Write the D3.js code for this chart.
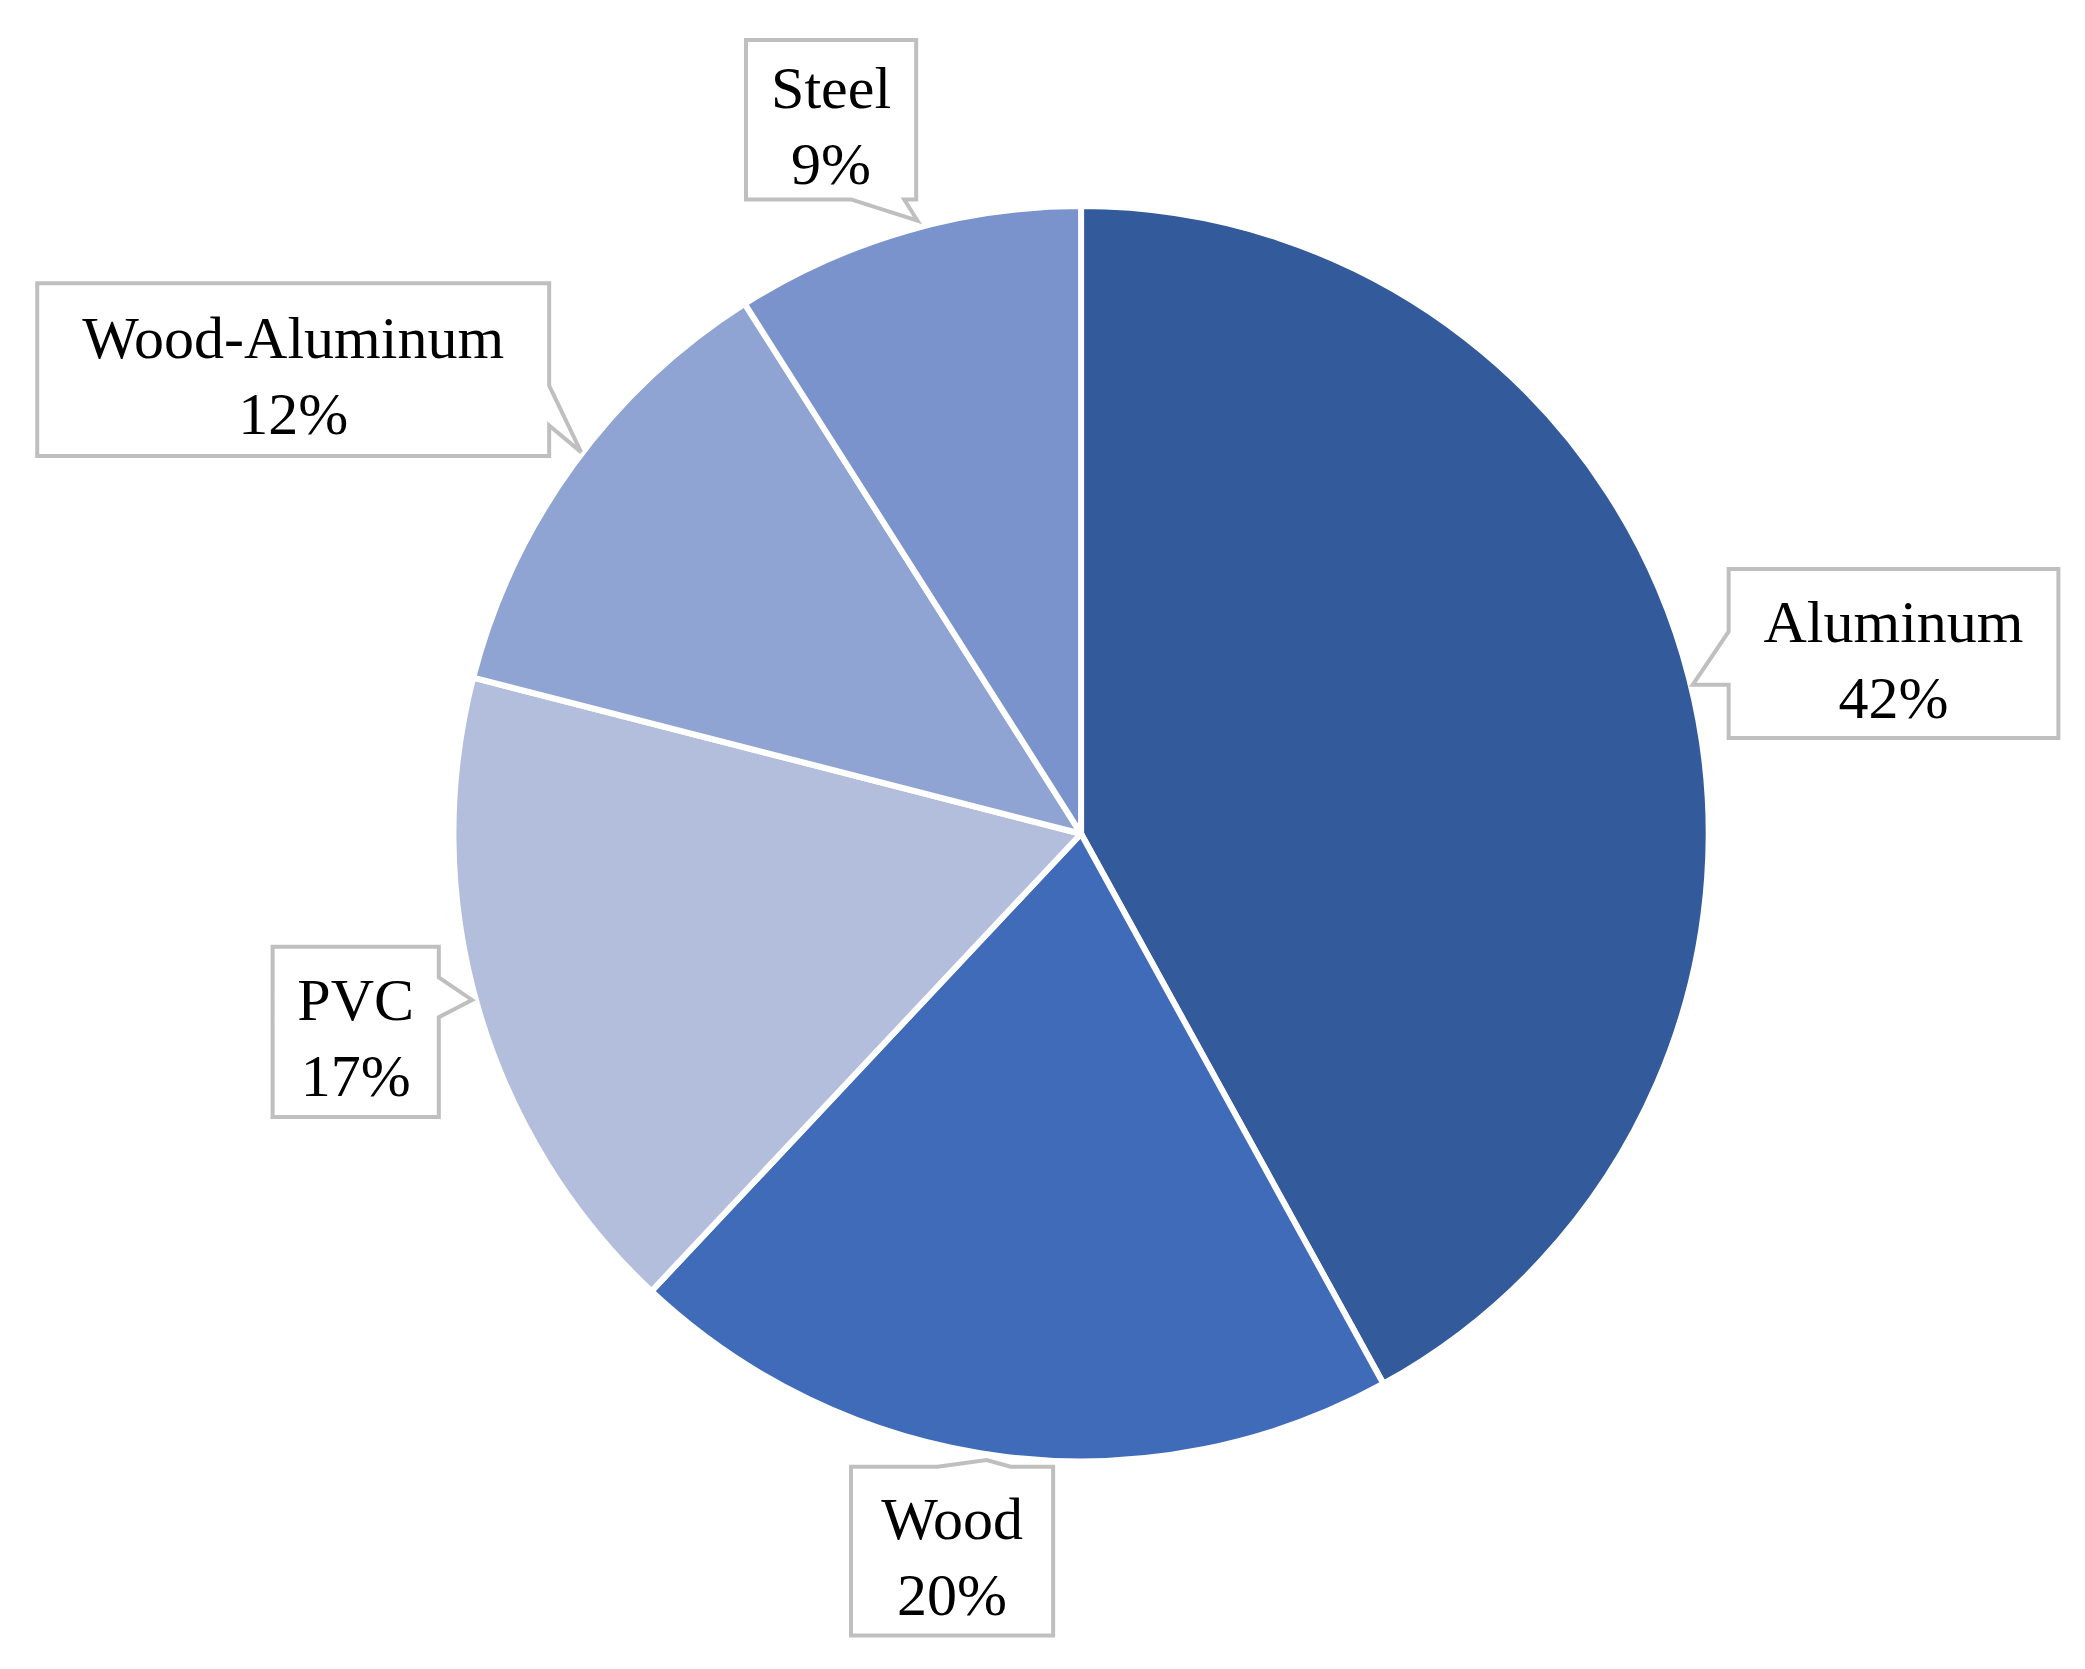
<!DOCTYPE html>
<html><head><meta charset="utf-8">
<script src="https://cdn.jsdelivr.net/npm/d3@7"></script>
<style>body{margin:0;background:#fff}</style></head>
<body><div id="chart"></div>
<script>
const categories = ["Aluminum", "Wood", "PVC", "Wood-Aluminum", "Steel"];
const values = [42, 20, 17, 12, 9];
const colors = ["#335A9A", "#406BB8", "#B3BEDD", "#90A4D4", "#7A93CD"];

const W = 2085, H = 1669, s = W / 1568;
const svg = d3.select("#chart").append("svg").attr("width", W).attr("height", H);
const cx = 813 * s, cy = 627 * s, r = 472 * s;

const pie = d3.pie().sort(null).value(d => d)(values);
const arc = d3.arc().innerRadius(0).outerRadius(r);
svg.append("g").attr("transform", `translate(${cx},${cy})`)
  .selectAll("path").data(pie).enter().append("path")
  .attr("d", arc).attr("fill", (d, i) => colors[i])
  .attr("stroke", "#fff").attr("stroke-width", 6).attr("stroke-linejoin", "round");

// callout boxes: [x0,y0,x1,y1], side of pointer, base a..b, tip
const boxes = [
  { b: [1300, 428, 1548, 555], side: "left", a: 475, e: 515, tip: [1273, 515] },
  { b: [640, 1103, 792, 1230], side: "top", a: 705, e: 760, tip: [742, 1098] },
  { b: [205, 712, 330, 840], side: "right", a: 735, e: 765, tip: [355, 752] },
  { b: [28, 213, 413, 343], side: "right", a: 290, e: 320, tip: [437, 340] },
  { b: [561, 30, 689, 150], side: "bottom", a: 640, e: 680, tip: [690, 166] }
];

function calloutPath(o) {
  const [x0, y0, x1, y1] = o.b.map(v => v * s), a = o.a * s, e = o.e * s;
  const t = o.tip.map(v => v * s);
  const p = [[x0, y0]];
  if (o.side === "top") p.push([a, y0], t, [e, y0]);
  p.push([x1, y0]);
  if (o.side === "right") p.push([x1, a], t, [x1, e]);
  p.push([x1, y1]);
  if (o.side === "bottom") p.push([e, y1], t, [a, y1]);
  p.push([x0, y1]);
  if (o.side === "left") p.push([x0, e], t, [x0, a]);
  return "M" + p.map(q => q.join(",")).join("L") + "Z";
}

categories.forEach((c, i) => {
  const o = boxes[i];
  svg.append("path").attr("d", calloutPath(o)).attr("fill", "#fff")
    .attr("stroke", "#BFBFBF").attr("stroke-width", 4);
  const mx = (o.b[0] + o.b[2]) / 2 * s, my = (o.b[1] + o.b[3]) / 2 * s;
  const t = svg.append("text").attr("text-anchor", "middle")
    .attr("font-family", "Liberation Serif, Times New Roman, serif")
    .attr("font-size", 60).attr("fill", "#000");
  t.append("tspan").attr("x", mx).attr("y", my - 12).text(c);
  t.append("tspan").attr("x", mx).attr("y", my + 64).text(values[i] + "%");
});
</script></body></html>
